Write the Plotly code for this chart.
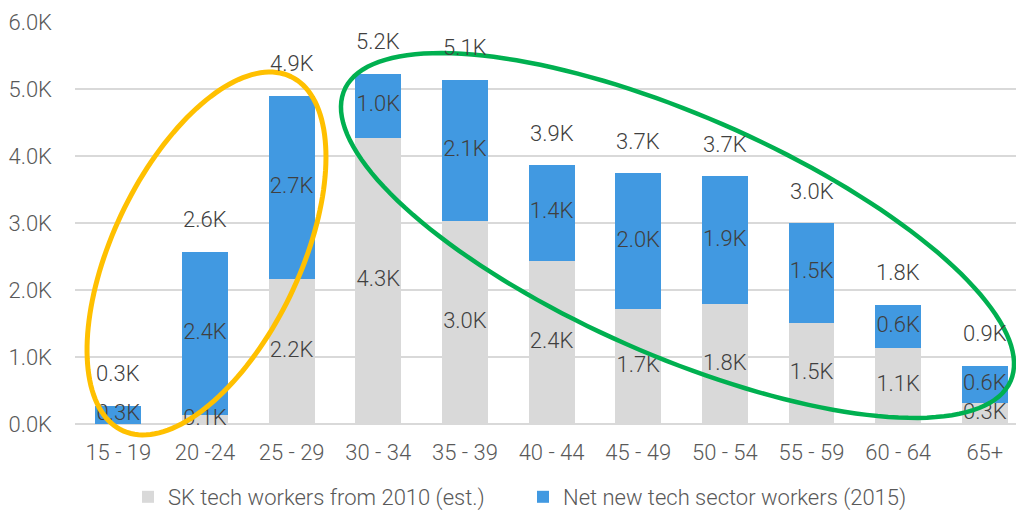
import numpy as np
import plotly.graph_objects as go

# Age groups and worker counts (thousands)
age_groups = ["15 - 19", "20 -24", "25 - 29", "30 - 34", "35 - 39", "40 - 44",
              "45 - 49", "50 - 54", "55 - 59", "60 - 64", "65+"]
sk_workers_2010 = [0.0, 0.13, 2.17, 4.27, 3.03, 2.44, 1.72, 1.79, 1.51, 1.14, 0.31]
net_new_2015 = [0.27, 2.44, 2.73, 0.96, 2.11, 1.42, 2.02, 1.91, 1.49, 0.64, 0.56]
y_tick_values = [0, 1, 2, 3, 4, 5, 6]
y_tick_labels = ["0.0K", "1.0K", "2.0K", "3.0K", "4.0K", "5.0K", "6.0K"]

series_names = ["SK tech workers from 2010 (est.)", "Net new tech sector workers (2015)"]

# Page geometry (pixels)
W, H = 1016, 512
ML, MR, MT, MB = 75, 0, 22, 88
PW, PH = W - ML - MR, H - MT - MB

GREY = "#D9D9D9"
BLUE = "#4199E1"
TICK_COLOR = "#595959"
LABEL_COLOR = "#404040"
FONT = "Roboto"
FS = 22

totals = [a + b for a, b in zip(sk_workers_2010, net_new_2015)]


def fmt(v):
    return f"{v:.1f}K"


fig = go.Figure()
fig.add_trace(go.Bar(x=age_groups, y=sk_workers_2010, name=series_names[0],
                     marker=dict(color=GREY, line=dict(width=0)), width=0.53,
                     hoverinfo="skip"))
fig.add_trace(go.Bar(x=age_groups, y=net_new_2015, name=series_names[1],
                     marker=dict(color=BLUE, line=dict(width=0)), width=0.53,
                     hoverinfo="skip"))

label_font = dict(family=FONT, size=FS, color=LABEL_COLOR, weight=300)
tick_font = dict(family=FONT, size=FS, color=TICK_COLOR, weight=300)

# Segment labels centred in each stacked segment
grey_x = [c for c, v in zip(age_groups, sk_workers_2010) if v > 0]
grey_y = [v / 2 for v in sk_workers_2010 if v > 0]
grey_t = [fmt(v) for v in sk_workers_2010 if v > 0]
fig.add_trace(go.Scatter(x=grey_x, y=grey_y, text=grey_t, mode="text",
                         textfont=label_font, showlegend=False,
                         hoverinfo="skip", cliponaxis=False))
blue_y = [a + b / 2 for a, b in zip(sk_workers_2010, net_new_2015)]
fig.add_trace(go.Scatter(x=age_groups, y=blue_y, text=[fmt(v) for v in net_new_2015],
                         mode="text", textfont=label_font, showlegend=False,
                         hoverinfo="skip", cliponaxis=False))

# Totals above each stack
for c, t in zip(age_groups, totals):
    fig.add_annotation(x=c, y=t, text=fmt(t), showarrow=False, yshift=32,
                       yanchor="middle", font=label_font)


# Highlight ellipses (pixel geometry: centre, semi-axes, rotation in degrees)
def ellipse_path(cx, cy, a, b, angle_deg, n=160):
    t = np.linspace(0, 2 * np.pi, n)
    th = np.deg2rad(angle_deg)
    x = cx + a * np.cos(t) * np.cos(th) - b * np.sin(t) * np.sin(th)
    y = cy + a * np.cos(t) * np.sin(th) + b * np.sin(t) * np.cos(th)
    px = (x - ML) / PW
    py = (H - MB - y) / PH
    pts = [f"{u:.5f},{v:.5f}" for u, v in zip(px, py)]
    return "M " + " L ".join(pts) + " Z"


fig.add_shape(type="path", xref="paper", yref="paper",
              path=ellipse_path(206.5, 253.5, 196, 93.7, -64.5),
              line=dict(color="#FFC000", width=5), layer="above")
fig.add_shape(type="path", xref="paper", yref="paper",
              path=ellipse_path(677.5, 235.5, 363.5, 120, 23.6),
              line=dict(color="#00B050", width=4.5), layer="above")

fig.update_layout(
    width=W, height=H,
    margin=dict(l=ML, r=MR, t=MT, b=MB),
    barmode="stack",
    plot_bgcolor="white", paper_bgcolor="white",
    font=dict(family=FONT, size=FS, color=TICK_COLOR, weight=300),
    xaxis=dict(type="category", categoryorder="array", categoryarray=age_groups,
               range=[-0.5, 10.36], showgrid=False, showline=False, zeroline=False,
               ticks="", tickfont=tick_font, ticklabelstandoff=13, fixedrange=True),
    yaxis=dict(range=[0, 6], tickvals=y_tick_values, ticktext=y_tick_labels,
               showgrid=True, gridcolor=GREY, gridwidth=1.5,
               zeroline=True, zerolinecolor=GREY, zerolinewidth=1.5,
               showline=False, ticks="", ticklabelstandoff=22,
               tickfont=tick_font, fixedrange=True),
    legend=dict(orientation="h", xref="container", yref="container",
                x=128 / W, y=15 / H, xanchor="left", yanchor="middle",
                font=tick_font, entrywidth=350, traceorder="normal",
                bgcolor="rgba(0,0,0,0)"),
    showlegend=True,
)

fig.write_html("out.html", config={"displayModeBar": False})
